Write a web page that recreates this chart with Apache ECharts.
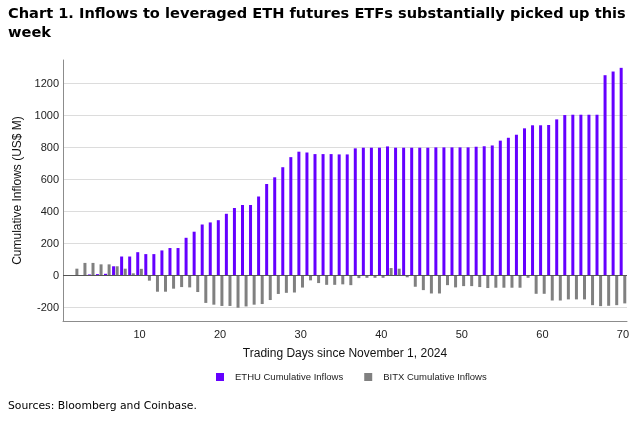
<!DOCTYPE html>
<html>
<head>
<meta charset="utf-8">
<script src="https://cdn.jsdelivr.net/npm/echarts@6/dist/echarts.min.js"></script>
<style>
html,body{margin:0;padding:0;background:#fff;}
#c{width:640px;height:423px;}
</style>
</head>
<body>
<div id="c"></div>
<script>
const titleText = 'Chart 1. Inflows to leveraged ETH futures ETFs substantially picked up this\nweek';
const sourceText = 'Sources: Bloomberg and Coinbase.';
const xAxisName = 'Trading Days since November 1, 2024';
const yAxisName = 'Cumulative Inflows (US$ M)';
const seriesNames = ['ETHU Cumulative Inflows', 'BITX Cumulative Inflows'];

const days = ['1','2','3','4','5','6','7','8','9','10',
  '11','12','13','14','15','16','17','18','19','20',
  '21','22','23','24','25','26','27','28','29','30',
  '31','32','33','34','35','36','37','38','39','40',
  '41','42','43','44','45','46','47','48','49','50',
  '51','52','53','54','55','56','57','58','59','60',
  '61','62','63','64','65','66','67','68','69','70'];

const ethu = [0, 0, 0, 8, 10, 12, 59, 120, 120, 147,
  135, 135, 158, 173, 173, 237, 275, 320, 333, 347,
  387, 423, 442, 442, 495, 573, 615, 678, 741, 775,
  770, 760, 760, 760, 758, 758, 796, 800, 800, 800,
  808, 800, 800, 800, 800, 800, 802, 802, 802, 802,
  802, 806, 809, 814, 844, 862, 881, 921, 940, 940,
  942, 977, 1004, 1006, 1006, 1006, 1006, 1253, 1276, 1299];

const bitx = [0, 44, 80, 80, 71, 71, 59, 44, 15, 43,
  -31, -100, -100, -81, -71, -73, -102, -170, -181, -189,
  -189, -200, -192, -181, -177, -152, -114, -107, -105, -74,
  -29, -46, -57, -57, -54, -59, -15, -13, -13, -13,
  48, 44, -10, -69, -90, -111, -111, -59, -73, -65,
  -65, -71, -77, -75, -75, -75, -75, -13, -113, -113,
  -155, -155, -148, -148, -148, -184, -190, -188, -184, -173];

const chart = echarts.init(document.getElementById('c'), null, {renderer: 'canvas'});
const axisFont = 'Liberation Sans, Arial, sans-serif';
chart.setOption({
  animation: false,
  backgroundColor: '#ffffff',
  title: {
    text: titleText,
    left: 3, top: 0,
    textStyle: {fontFamily: 'DejaVu Sans, Verdana, sans-serif', fontWeight: 'bold', fontSize: 14.6, lineHeight: 19, color: '#000'}
  },
  graphic: [{
    type: 'text', left: 8, top: 401,
    style: {text: sourceText, font: '10.8px "DejaVu Sans", Verdana, sans-serif', fill: '#000'}
  }],
  legend: {
    left: 211, top: 367,
    itemWidth: 8, itemHeight: 8, itemGap: 21,
    icon: 'rect',
    textStyle: {fontFamily: axisFont, fontSize: 9.5, color: '#222', padding: [0, 0, 0, 6]},
    data: seriesNames
  },
  grid: {left: 63, right: 13, top: 60, bottom: 102, containLabel: false},
  xAxis: {
    type: 'category',
    data: days,
    name: xAxisName,
    nameLocation: 'middle',
    nameGap: 27,
    nameTextStyle: {fontFamily: axisFont, fontSize: 12, color: '#111'},
    axisLine: {onZero: false, lineStyle: {color: '#8c8c8c', width: 1}},
    axisTick: {show: false},
    axisLabel: {
      fontFamily: axisFont, fontSize: 11, color: '#222', margin: 8,
      interval: function (idx, val) { return Number(val) % 10 === 0; }
    },
    splitLine: {show: false}
  },
  yAxis: {
    type: 'value',
    min: -283, max: 1348,
    splitNumber: 8,
    name: yAxisName,
    nameLocation: 'middle',
    nameGap: 36,
    nameTextStyle: {fontFamily: axisFont, fontSize: 12, color: '#111'},
    axisLine: {show: true, lineStyle: {color: '#8c8c8c', width: 1}},
    axisTick: {show: false},
    axisLabel: {fontFamily: axisFont, fontSize: 11, color: '#222', margin: 4,
      showMinLabel: false, showMaxLabel: false,
      formatter: function (v) { return String(v); }},
    splitLine: {show: true, showMinLine: false, showMaxLine: false, lineStyle: {color: '#dcdcdc', width: 1}}
  },
  series: [
    {
      name: seriesNames[0], type: 'bar', data: ethu,
      barWidth: 3, barGap: '20%',
      itemStyle: {color: '#6500ff'},
      markLine: {
        silent: true, symbol: 'none', label: {show: false},
        lineStyle: {color: '#555555', type: 'solid', width: 1},
        data: [{yAxis: 0}]
      }
    },
    {
      name: seriesNames[1], type: 'bar', data: bitx,
      barWidth: 3,
      itemStyle: {color: '#808080'}
    }
  ]
});
</script>
</body>
</html>
